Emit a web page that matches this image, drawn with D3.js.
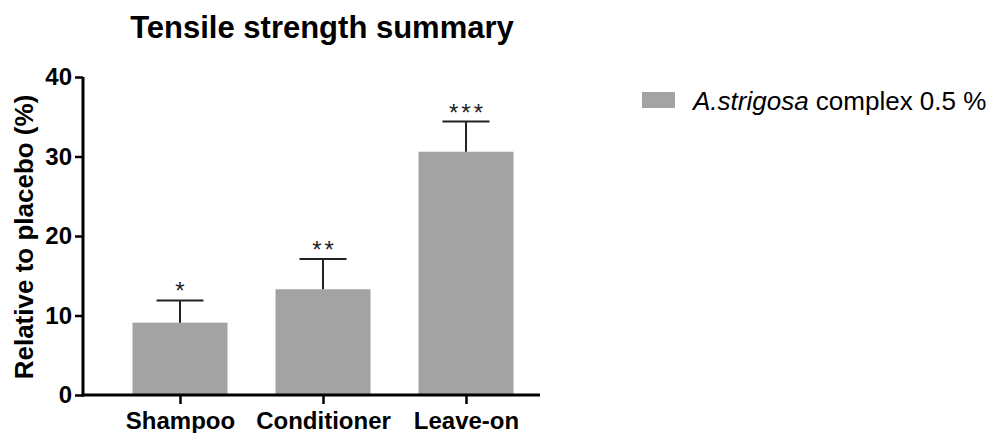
<!DOCTYPE html>
<html><head><meta charset="utf-8">
<script src="https://cdn.jsdelivr.net/npm/d3@7"></script>
<style>body{margin:0;background:#fff}svg{display:block}text{font-family:"Liberation Sans",Arial,sans-serif}</style>
</head><body>
<svg id="c" width="992" height="433"></svg>
<script>
const categories = ["Shampoo", "Conditioner", "Leave-on"];
const values = [9.1, 13.3, 30.6];
const errors = [2.8, 3.8, 3.8];
const stars = ["*", "**", "***"];
const yTicks = [0, 10, 20, 30, 40];
const seriesName = "complex 0.5 %";
const seriesItalic = "A.strigosa";

const svg = d3.select("#c");
const y = d3.scaleLinear().domain([0, 40]).range([395, 77]);
const x = d3.scalePoint().domain(categories).range([180, 466]);
const bw = 95, cap = 47;
const fill = "#a3a3a3";
const FF = "Liberation Sans, Arial, sans-serif";

// bars
svg.selectAll("rect.bar").data(values).enter().append("rect")
  .attr("x", (d,i) => x(categories[i]) - bw/2).attr("y", d => y(d))
  .attr("width", bw).attr("height", d => y(0) - y(d)).attr("fill", fill);

// error bars
const eg = svg.append("g").attr("stroke", "#222").attr("stroke-width", 2);
values.forEach((v,i) => {
  const cx = x(categories[i]);
  eg.append("line").attr("x1", cx).attr("x2", cx).attr("y1", y(v)).attr("y2", y(v+errors[i]));
  eg.append("line").attr("x1", cx-cap/2).attr("x2", cx+cap/2).attr("y1", y(v+errors[i])).attr("y2", y(v+errors[i]));
});
// stars
svg.selectAll("text.star").data(stars).enter().append("text")
  .attr("x", (d,i) => x(categories[i]) + 1.5).attr("y", (d,i) => y(values[i]+errors[i]) - 1)
  .attr("text-anchor", "middle").attr("font-size", 24).attr("letter-spacing", 3)
  .attr("fill", "#222").text(d => d);

// y axis
const ya = svg.append("g").attr("transform", "translate(83,0)")
  .call(d3.axisLeft(y).tickValues(yTicks).tickSize(8).tickPadding(3));
ya.select(".domain").attr("stroke", "#000").attr("stroke-width", 3).attr("d", "M0," + y(40) + "V" + (y(0)+1.5));
ya.selectAll(".tick line").attr("stroke", "#000").attr("stroke-width", 2.5);
ya.selectAll(".tick text").attr("font-size", 24).attr("font-weight", "bold").attr("fill", "#000")
  .attr("font-family", FF);

// x axis
const xa = svg.append("g").attr("transform", "translate(0," + y(0) + ")")
  .call(d3.axisBottom(x).tickSize(9).tickPadding(6));
xa.select(".domain").attr("stroke", "#000").attr("stroke-width", 3).attr("d", "M81.5,0H540");
xa.selectAll(".tick line").attr("stroke", "#000").attr("stroke-width", 2.5);
xa.selectAll(".tick text").attr("font-size", 24).attr("font-weight", "bold").attr("fill", "#000")
  .attr("dy", "0.78em").attr("font-family", FF);

// y title
svg.append("text").attr("transform", "translate(33,237) rotate(-90)")
  .attr("text-anchor", "middle").attr("font-size", 26).attr("font-weight", "bold").text("Relative to placebo (%)");

// title
svg.append("text").attr("x", 322).attr("y", 38).attr("text-anchor", "middle")
  .attr("font-size", 31).attr("font-weight", "bold").text("Tensile strength summary");

// legend
svg.append("rect").attr("x", 642).attr("y", 92).attr("width", 33).attr("height", 16).attr("fill", fill);
const lt = svg.append("text").attr("x", 693).attr("y", 110).attr("font-size", 26).attr("fill", "#000");
lt.append("tspan").attr("font-style", "italic").text(seriesItalic);
lt.append("tspan").text(" " + seriesName);
</script>
</body></html>
